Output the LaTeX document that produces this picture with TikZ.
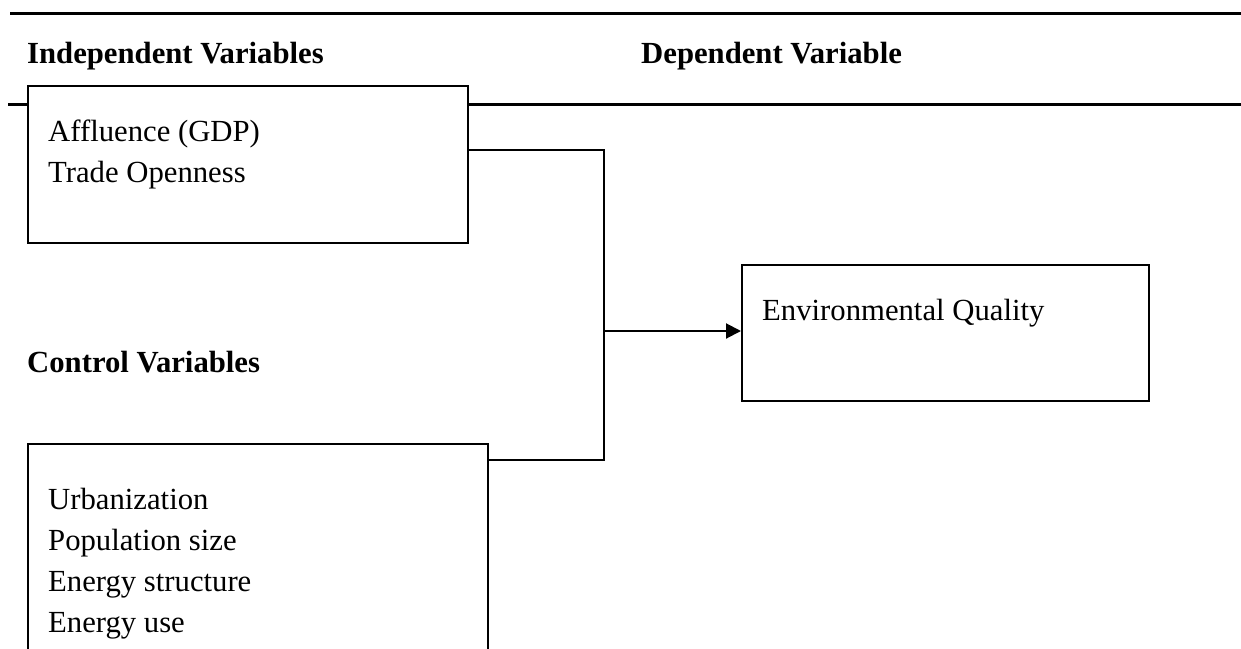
\documentclass[tikz,border=0pt]{standalone}
\usepackage{fontspec}
\setmainfont{Liberation Serif}
\usetikzlibrary{arrows.meta}
\begin{document}
\begin{tikzpicture}[x=1pt,y=-1pt,
  rule/.style={line width=3pt},
  vbox/.style={draw,line width=1.5pt,fill=white,rectangle,anchor=north west,inner sep=0pt},
  lbl/.style={anchor=base west,inner sep=0pt,font=\fontsize{30.7}{41}\selectfont},
  hdr/.style={lbl,font=\fontsize{30.7}{41}\selectfont\bfseries},
  conn/.style={line width=2pt},
  every node/.style={}]
\useasboundingbox (0,0) rectangle (1241,648);
\draw[rule] (10,13) -- (1241,13);
\draw[rule] (8,104) -- (1241,104);
\node[hdr] (hi) at (27,63) {Independent Variables};
\node[hdr] (hd) at (641,63) {Dependent Variable};
\node[hdr] (hc) at (27,372) {Control Variables};
\node[vbox,minimum width=440pt,minimum height=157pt] (b1) at (27,85) {};
\node[lbl] (t1) at (48,141) {Affluence (GDP)};
\node[lbl] (t2) at (48,182) {Trade Openness};
\node[vbox,minimum width=460pt,minimum height=220pt] (b2) at (27,443) {};
\node[lbl] (t3) at (48,509) {Urbanization};
\node[lbl] (t4) at (48,550) {Population size};
\node[lbl] (t5) at (48,591) {Energy structure};
\node[lbl] (t6) at (48,632) {Energy use};
\node[vbox,minimum width=407pt,minimum height=136pt] (b3) at (741,264) {};
\node[lbl] (t7) at (762,320) {Environmental Quality};
\coordinate (j1) at (604,150);
\coordinate (j2) at (604,460);
\coordinate (j3) at (604,331);
\draw[conn] (b1.east |- j1) -- (j1) -- (j2) -- (b2.east |- j2);
\draw[conn,-{Triangle[length=15pt,width=15pt]}] (j3) -- (b3.west |- j3);
\end{tikzpicture}
\end{document}
